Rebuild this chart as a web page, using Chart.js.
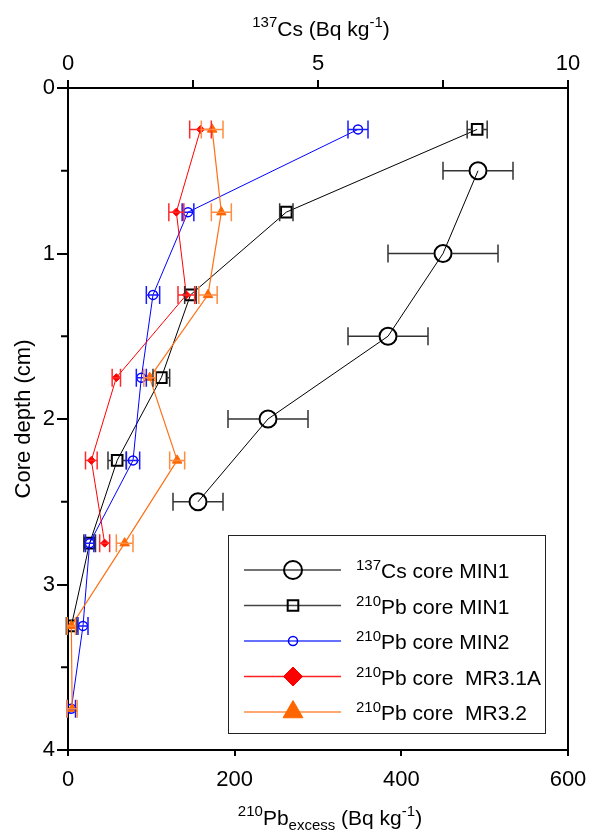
<!DOCTYPE html>
<html>
<head>
<meta charset="utf-8">
<script src="https://cdn.jsdelivr.net/npm/chart.js@4.4.1/dist/chart.umd.min.js"></script>
<style>
  html, body { margin: 0; padding: 0; background: #fff; }
</style>
</head>
<body>
<canvas id="myChart" width="591" height="836"></canvas>
<script>
// depths of the samples (cm)
const depthCs = [0.5, 1.0, 1.5, 2.0, 2.5]
const depthPb = [0.25, 0.75, 1.25, 1.75, 2.25, 2.75, 3.25, 3.75]
const depthMinor = [0.5, 1.5, 2.5, 3.5]

// 137Cs core MIN1 (Bq/kg, top axis)
const csMin1 = [8.2, 7.5, 6.4, 4.0, 2.6]
const csMin1Err = [0.7, 1.1, 0.8, 0.8, 0.5]

// 210Pb excess (Bq/kg, bottom axis)
const pbMin1 = [491, 262, 147, 112, 59, 26, 4]
const pbMin1Err = [12, 8, 7, 10, 11, 7, 6]
const pbMin2 = [348, 144, 102, 88, 78, 26, 18, 4]
const pbMin2Err = [12, 7, 8, 6, 8, 5, 6, 5]
const pbMr31a = [159, 130, 142, 58, 28, 44]
const pbMr31aErr = [13, 9, 10, 5, 7, 6]
const pbMr32 = [173, 184, 168, 98, 131, 68, 4, 5]
const pbMr32Err = [13, 12, 11, 7, 9, 10, 5, 6]

const FONT = "'Liberation Sans', Arial, Helvetica, sans-serif"

function points(xs, ys) {
  return xs.map((v, i) => ({x: v, y: ys[i]}))
}

// draw text made of pieces with different size / vertical shift
function richText(ctx, parts, x, y, align) {
  let w = 0
  parts.forEach(p => { ctx.font = p[1] + 'px ' + FONT; w += ctx.measureText(p[0]).width })
  let cx = align === 'center' ? x - w / 2 : x
  ctx.textAlign = 'left'
  ctx.textBaseline = 'alphabetic'
  parts.forEach(p => {
    ctx.font = p[1] + 'px ' + FONT
    ctx.fillText(p[0], cx, y + p[2])
    cx += ctx.measureText(p[0]).width
  })
}

// no room kept for overhanging tick labels, the plot box is fixed
function noPad(s) {
  s.paddingLeft = 0; s.paddingRight = 0; s.paddingTop = 0; s.paddingBottom = 0
}

// horizontal error bars, drawn through the dataset's own scales
const errorBars = {
  id: 'errorBars',
  afterDatasetsDraw(chart) {
    const ctx = chart.ctx
    chart.data.datasets.forEach((ds, i) => {
      const meta = chart.getDatasetMeta(i)
      const xs = chart.scales[meta.xAxisID]
      const ys = chart.scales[meta.yAxisID]
      ctx.save()
      ctx.strokeStyle = ds.errColor
      ctx.lineWidth = 1.5
      ds.data.forEach((p, j) => {
        const e = ds.errors[j]
        const px = xs.getPixelForValue(p.x)
        const x1 = xs.getPixelForValue(p.x - e)
        const x2 = xs.getPixelForValue(p.x + e)
        const y = ys.getPixelForValue(p.y)
        const g = ds.errGap
        ctx.beginPath()
        ctx.moveTo(x1, y); ctx.lineTo(Math.min(px - g, x2), y)
        ctx.moveTo(Math.max(px + g, x1), y); ctx.lineTo(x2, y)
        ctx.moveTo(x1, y - 9); ctx.lineTo(x1, y + 9)
        ctx.moveTo(x2, y - 9); ctx.lineTo(x2, y + 9)
        ctx.stroke()
      })
      ctx.restore()
    })
  }
}

const legendItems = [
  {sup: '137', name: 'Cs core MIN1', r: 9},
  {sup: '210', name: 'Pb core MIN1', r: 7.5},
  {sup: '210', name: 'Pb core MIN2', r: 4.5},
  {sup: '210', name: 'Pb core  MR3.1A', r: 9.5},
  {sup: '210', name: 'Pb core  MR3.2', r: 11.5}
]

const decor = {
  id: 'decor',
  afterDraw(chart) {
    const {ctx, chartArea: a, scales} = chart
    ctx.save()
    // right frame + minor depth ticks
    ctx.strokeStyle = '#000'
    ctx.lineWidth = 2
    ctx.beginPath()
    ctx.moveTo(a.right, a.top - 1); ctx.lineTo(a.right, a.bottom + 1)
    depthMinor.forEach(v => {
      const y = scales.y.getPixelForValue(v)
      ctx.moveTo(a.left - 7, y); ctx.lineTo(a.left, y)
    })
    ctx.stroke()

    // axis titles
    ctx.fillStyle = '#000'
    richText(ctx, [['137', 15, -9], ['Cs (Bq kg', 21, 0], ['-1', 15, -9], [')', 21, 0]], 321, 36, 'center')
    richText(ctx, [['210', 15, -9], ['Pb', 21, 0], ['excess', 15, 5], [' (Bq kg', 21, 0], ['-1', 15, -9], [')', 21, 0]], 330, 825, 'center')
    ctx.save()
    ctx.translate(24, (a.top + a.bottom) / 2)
    ctx.rotate(-Math.PI / 2)
    ctx.font = '22px ' + FONT
    ctx.textAlign = 'center'
    ctx.textBaseline = 'middle'
    ctx.fillText('Core depth (cm)', 0, 0)
    ctx.restore()

    // legend
    const bx = a.left + 160, by = a.top + 447, bw = 317, bh = 198
    ctx.lineWidth = 1
    ctx.strokeStyle = '#222'
    ctx.strokeRect(bx + 0.5, by + 0.5, bw, bh)
    legendItems.forEach((it, i) => {
      const ds = chart.data.datasets[i]
      const y = by + 35 + i * 35.5
      ctx.strokeStyle = ds.legendLine
      ctx.lineWidth = 1.3
      ctx.beginPath()
      ctx.moveTo(bx + 16, y); ctx.lineTo(bx + 113, y)
      ctx.stroke()
      ctx.strokeStyle = ds.pointBorderColor
      ctx.fillStyle = ds.pointBackgroundColor
      ctx.lineWidth = ds.pointBorderWidth
      Chart.helpers.drawPoint(ctx, {pointStyle: ds.pointStyle, radius: it.r, rotation: 0, borderWidth: ds.pointBorderWidth}, bx + 65, y)
      ctx.fillStyle = '#000'
      richText(ctx, [[it.sup, 15, -8], [it.name, 21, 0]], bx + 128, y + 8, 'left')
    })
    ctx.restore()
  }
}

const ctx = document.getElementById('myChart').getContext('2d')
const myChart = new Chart(ctx, {
  type: 'scatter',
  data: {
    datasets: [
      {
        label: '137Cs core MIN1', xAxisID: 'x2',
        data: points(csMin1, depthCs), errors: csMin1Err, errColor: '#333', errGap: 9,
        showLine: true, borderColor: '#000', borderWidth: 1, legendLine: '#444',
        pointStyle: 'circle', pointRadius: 8.5, pointBorderWidth: 2,
        pointBorderColor: '#000', pointBackgroundColor: 'rgba(0,0,0,0)', order: 5
      },
      {
        label: '210Pb core MIN1', xAxisID: 'x',
        data: points(pbMin1, depthPb), errors: pbMin1Err, errColor: '#333', errGap: 5,
        showLine: true, borderColor: '#000', borderWidth: 1, legendLine: '#444',
        pointStyle: 'rect', pointRadius: 7.5, pointBorderWidth: 2,
        pointBorderColor: '#000', pointBackgroundColor: 'rgba(0,0,0,0)', order: 4
      },
      {
        label: '210Pb core MIN2', xAxisID: 'x',
        data: points(pbMin2, depthPb), errors: pbMin2Err, errColor: '#1a1aff', errGap: 0,
        showLine: true, borderColor: '#0000ff', borderWidth: 1, legendLine: '#3340ff',
        pointStyle: 'circle', pointRadius: 4.5, pointBorderWidth: 1.5,
        pointBorderColor: '#0000ff', pointBackgroundColor: 'rgba(0,0,0,0)', order: 3
      },
      {
        label: '210Pb core MR3.1A', xAxisID: 'x',
        data: points(pbMr31a, depthPb), errors: pbMr31aErr, errColor: '#ff2a2a', errGap: 0,
        showLine: true, borderColor: '#ff0000', borderWidth: 1, legendLine: '#ff2020',
        pointStyle: 'rectRot', pointRadius: 4, pointBorderWidth: 1,
        pointBorderColor: '#ff0000', pointBackgroundColor: '#ff0000', order: 2
      },
      {
        label: '210Pb core MR3.2', xAxisID: 'x',
        data: points(pbMr32, depthPb), errors: pbMr32Err, errColor: '#ff8c40', errGap: 0,
        showLine: true, borderColor: '#ff7014', borderWidth: 1.2, legendLine: '#ff8c40',
        pointStyle: 'triangle', pointRadius: 5.5, pointBorderWidth: 1,
        pointBorderColor: '#ff6600', pointBackgroundColor: '#ff6600', order: 1
      }
    ]
  },
  options: {
    responsive: false,
    animation: false,
    layout: {padding: {left: 0, right: 23, top: 0, bottom: 0}},
    plugins: {legend: {display: false}, tooltip: {enabled: false}},
    elements: {line: {tension: 0}},
    scales: {
      x: {
        type: 'linear', position: 'bottom', min: 0, max: 600,
        afterFit(s) { s.height = 86; noPad(s) },
        ticks: {stepSize: 200, padding: 11, color: '#000', font: {family: FONT, size: 22}, maxRotation: 0},
        grid: {drawOnChartArea: false, drawTicks: true, tickLength: 6, color: '#000', lineWidth: 2},
        border: {display: true, color: '#000', width: 2}
      },
      x2: {
        type: 'linear', position: 'top', min: 0, max: 10,
        afterFit(s) { s.height = 88; noPad(s) },
        ticks: {stepSize: 2.5, padding: 3, color: '#000', font: {family: FONT, size: 22}, maxRotation: 0,
          callback: v => (v % 5 === 0 ? v : '')},
        grid: {drawOnChartArea: false, drawTicks: true, tickLength: 8, color: '#000', lineWidth: 2},
        border: {display: true, color: '#000', width: 2}
      },
      y: {
        type: 'linear', position: 'left', min: 0, max: 4, reverse: true,
        afterFit(s) { s.width = 68; noPad(s) },
        ticks: {stepSize: 1, padding: 2, color: '#000', font: {family: FONT, size: 22}},
        grid: {drawOnChartArea: false, drawTicks: true, tickLength: 11, color: '#000', lineWidth: 2},
        border: {display: true, color: '#000', width: 2}
      }
    }
  },
  plugins: [errorBars, decor]
})
</script>
</body>
</html>
